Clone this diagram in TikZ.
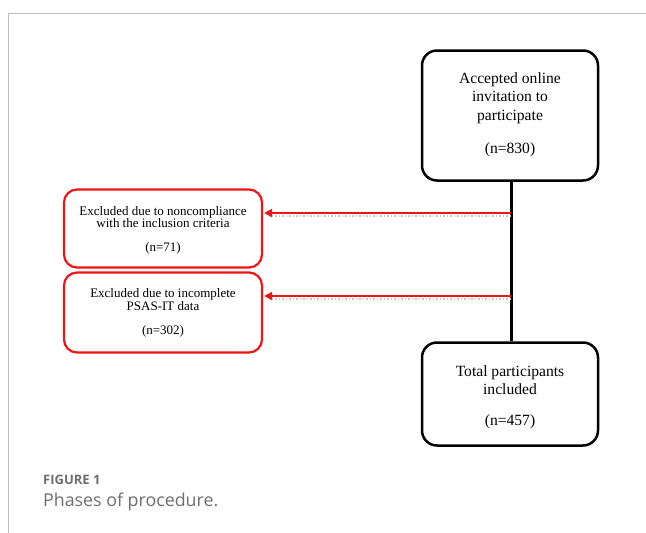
\documentclass[tikz,border=0pt]{standalone}
\usepackage{fontspec}
\setmainfont{Liberation Serif}
\newfontfamily\capfont{Open Sans}
\usetikzlibrary{arrows.meta}
\definecolor{framegray}{RGB}{190,190,190}
\definecolor{capgray}{RGB}{110,110,110}
\definecolor{redline}{RGB}{240,20,20}
\begin{document}
\begin{tikzpicture}[x=1pt,y=-1pt,
  blackbox/.style={draw=black,line width=2.5pt,rounded corners=15pt,minimum width=176pt,inner sep=0pt},
  redbox/.style={draw=redline,line width=2.2pt,rounded corners=13pt,minimum width=198pt,inner sep=0pt},
  bigtxt/.style={align=center,font=\fontsize{15.6}{18.5}\selectfont,inner sep=0pt},
  smalltxt/.style={align=center,font=\fontsize{13}{10.5}\selectfont,inner sep=0pt},
  redarrow/.style={draw=redline,line width=2.6pt,-{Triangle[length=8pt,width=8pt]}},
  shadow/.style={draw=black!22,line width=1.5pt,dotted}]
\useasboundingbox (0,0) rectangle (646,533);
\draw[framegray,line width=1pt] (646,13) -- (8,13) -- (8,533);
\node[blackbox,minimum height=130pt] (top) at (510,115.5) {};
\node[bigtxt] (toptxt) at (510,98) {Accepted online\\invitation to\\participate};
\node[bigtxt] (topn) at (510,150) {(n=830)};
\node[blackbox,minimum height=103pt] (bot) at (510,394) {};
\node[bigtxt] (bottxt) at (510,380) {Total participants\\included};
\node[bigtxt] (botn) at (510,422) {(n=457)};
\node[redbox,minimum height=78pt] (r1) at (163,228.5) {};
\node[smalltxt] (r1txt) at (163,217) {Excluded due to noncompliance\\with the inclusion criteria};
\node[smalltxt] (r1n) at (163,248) {(n=71)};
\node[redbox,minimum height=80pt] (r2) at (163,312.5) {};
\node[smalltxt] (r2txt) at (163,299.5) {Excluded due to incomplete\\PSAS-IT data};
\node[smalltxt] (r2n) at (163,331) {(n=302)};
\coordinate (j1) at (511,213);
\coordinate (j2) at (511,296);
\draw[line width=3pt] (top.south -| j1) -- (bot.north -| j1);
\draw[shadow] ([yshift=-3pt]j1) -- ([yshift=-3pt,xshift=6pt]r1.east |- j1);
\draw[shadow] ([yshift=-3pt]j2) -- ([yshift=-3pt,xshift=6pt]r2.east |- j2);
\draw[redarrow] (j1) -- ([xshift=1pt]r1.east |- j1);
\draw[redarrow] (j2) -- ([xshift=1pt]r2.east |- j2);
\node[anchor=west,text=capgray,font=\capfont\bfseries\fontsize{13}{14}\selectfont,inner sep=0pt] (figlab) at (43,480) {FIGURE 1};
\node[anchor=west,text=capgray,font=\capfont\fontsize{17.8}{20}\selectfont,inner sep=0pt] (cap) at (43,502) {Phases of procedure.};
\end{tikzpicture}
\end{document}
